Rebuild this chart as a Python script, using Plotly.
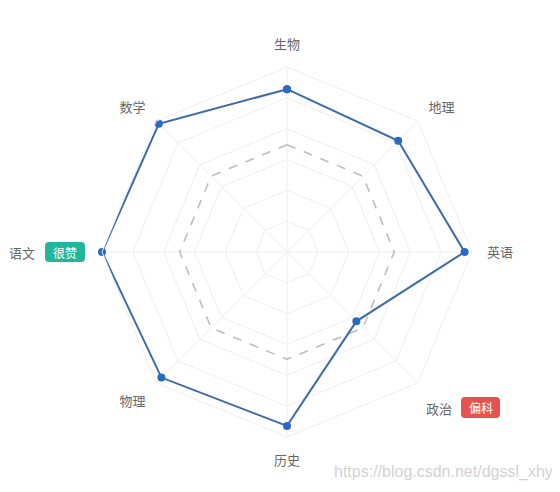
import plotly.graph_objects as go

# subjects, clockwise starting at the top
subjects = ["生物", "地理", "英语", "政治", "历史", "物理", "语文", "数学"]
scores = [88, 85, 96, 53, 94, 96, 100, 98]
pass_line = [58, 58, 58, 58, 58, 58, 58, 58]
# 语文 / 政治 are drawn separately with badges
tick_labels = ["生物", "地理", "英语", "", "历史", "物理", "", "数学"]
ring_values = [100 / 6 * k for k in range(1, 7)]

FONT = "Noto Sans CJK SC, Noto Sans, sans-serif"


def closed(v):
    return list(v) + [v[0]]


def rounded_rect(x0, y0, x1, y1, r):
    return (f"M {x0 + r},{y0} L {x1 - r},{y0} Q {x1},{y0} {x1},{y0 + r} "
            f"L {x1},{y1 - r} Q {x1},{y1} {x1 - r},{y1} L {x0 + r},{y1} "
            f"Q {x0},{y1} {x0},{y1 - r} L {x0},{y0 + r} Q {x0},{y0} {x0 + r},{y0} Z")


fig = go.Figure()

fig.add_trace(go.Scatterpolar(
    r=closed(pass_line), theta=closed(subjects),
    mode="lines", line=dict(color="#bdbdbd", width=1.6, dash="dash"),
    hoverinfo="skip"))

fig.add_trace(go.Scatterpolar(
    r=closed(scores), theta=closed(subjects),
    mode="lines+markers",
    line=dict(color="#3d6aa8", width=2),
    marker=dict(color="#2a6ac0", size=8)))

# page px -> paper (plot area is 370x370 at page left 102, top 67; body has 8px margin)
def px(x):
    return (x - 102) / 370


def py_(y):
    return (437 - y) / 370


badges = [
    ("很赞", "#22b79a", 45, 242, 85, 262),
    ("偏科", "#e5534f", 461, 397, 500, 418),
]
shapes = []
annotations = []
for text, color, x0, y0, x1, y1 in badges:
    shapes.append(dict(type="path", xref="paper", yref="paper",
                       path=rounded_rect(px(x0), py_(y1), px(x1), py_(y0), 4 / 370),
                       fillcolor=color, line=dict(width=0)))
    annotations.append(dict(text=text, x=px((x0 + x1) / 2), y=py_((y0 + y1) / 2),
                            xanchor="center", yanchor="middle",
                            xref="paper", yref="paper", showarrow=False,
                            font=dict(family=FONT, size=12, color="white")))

for text, x, y in [("语文", 21.5, 252), ("政治", 438.5, 408)]:
    annotations.append(dict(text=text, x=px(x), y=py_(y), xanchor="center", yanchor="middle",
                            xref="paper", yref="paper", showarrow=False,
                            font=dict(family=FONT, size=13, color="#666")))

annotations.append(dict(text="https://blog.csdn.net/dgssl_xhy", x=px(443), y=py_(472),
                        xanchor="center", yanchor="middle",
                        xref="paper", yref="paper", showarrow=False,
                        font=dict(family="Liberation Sans, Arial, sans-serif", size=16,
                                  color="#d2d2d2")))

fig.update_layout(
    width=552, height=484,
    margin=dict(l=94, r=88, t=59, b=55),
    paper_bgcolor="white",
    showlegend=False,
    shapes=shapes,
    annotations=annotations,
    polar=dict(
        bgcolor="white",
        gridshape="linear",
        radialaxis=dict(range=[0, 100], tickmode="array", tickvals=ring_values,
                        showticklabels=False, ticks="", showline=False,
                        gridcolor="#eeeeee", gridwidth=1),
        angularaxis=dict(rotation=90, direction="clockwise",
                         tickmode="array", tickvals=subjects, ticktext=tick_labels,
                         ticks="outside", ticklen=12, tickcolor="rgba(0,0,0,0)",
                         linecolor="#eeeeee", gridcolor="#eeeeee",
                         tickfont=dict(family=FONT, size=13, color="#666")),
    ),
)

fig.write_html("out.html")
